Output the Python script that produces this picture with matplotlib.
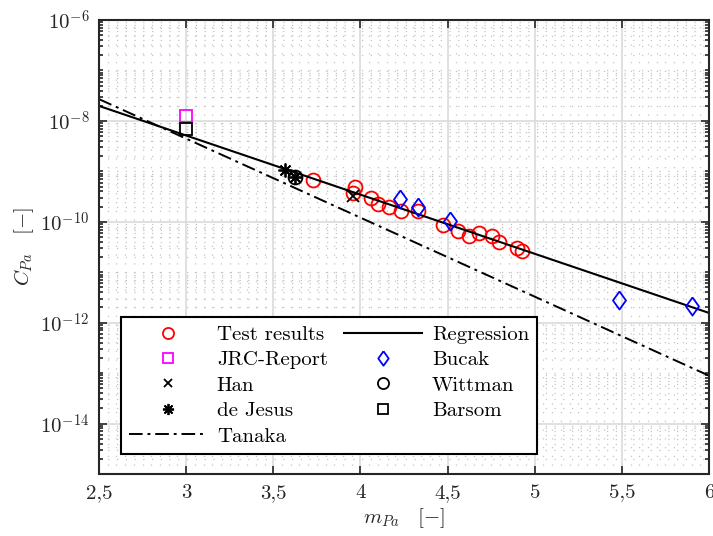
import matplotlib
matplotlib.use("Agg")
import matplotlib.pyplot as plt
from matplotlib.ticker import FixedLocator, MultipleLocator, FuncFormatter, NullFormatter
import numpy as np

plt.rcParams['font.family'] = 'serif'
plt.rcParams['font.serif'] = ['cmr10']
plt.rcParams['mathtext.fontset'] = 'cm'
plt.rcParams['axes.unicode_minus'] = False
plt.rcParams['axes.formatter.use_mathtext'] = True

# data
test_m = [3.727, 3.971, 3.960, 4.061, 4.099, 4.166, 4.233, 4.328,
          4.471, 4.557, 4.624, 4.681, 4.757, 4.795, 4.900, 4.929]
test_C = [6.8e-10, 4.9e-10, 3.7e-10, 2.9e-10, 2.27e-10, 1.92e-10, 1.67e-10, 1.6e-10,
          8.7e-11, 6.7e-11, 5.3e-11, 6.1e-11, 5.3e-11, 3.9e-11, 3.0e-11, 2.67e-11]
jrc_m = [3.0]
jrc_C = [1.26e-8]
han_m = [3.96]
han_C = [3.2e-10]
jesus_m = [3.565, 3.622]
jesus_C = [1.05e-9, 7.7e-10]
tanaka_m = [2.5, 6.0]
tanaka_C = [2.7e-8, 8.9e-14]
reg_m = [2.5, 6.0]
reg_C = [1.98e-8, 1.56e-12]
bucak_m = [4.227, 4.332, 4.515, 5.482, 5.902]
bucak_C = [2.8e-10, 2.0e-10, 1.06e-10, 2.85e-12, 2.1e-12]
wittman_m = [3.622]
wittman_C = [7.7e-10]
barsom_m = [3.0]
barsom_C = [6.8e-9]

xticks = [2.5, 3, 3.5, 4, 4.5, 5, 5.5, 6]
xticklabels = ['2,5', '3', '3,5', '4', '4,5', '5', '5,5', '6']
yexp = [-14, -12, -10, -8, -6]

fig = plt.figure(figsize=(7.13, 5.36), dpi=100)
ax = fig.add_axes([99/713, 1 - 474/536, 610/713, 454/536])

diamond = [(0, 1), (0.72, 0), (0, -1), (-0.72, 0), (0, 1)]
ms = 10
mew = 1.3

ax.plot(test_m, test_C, 'o', mfc='none', mec='red', ms=ms, mew=mew, label='Test results')
ax.plot(jrc_m, jrc_C, 's', mfc='none', mec='magenta', ms=9, mew=mew, label='JRC-Report')
ax.plot(han_m, han_C, 'x', color='black', ms=8, mew=mew, label='Han')
ax.plot(jesus_m, jesus_C, marker=(8, 2, 0), ls='none', color='black', ms=10, mew=mew,
        label='de Jesus')
ax.plot(tanaka_m, tanaka_C, color='black', lw=1.4, ls=(0, (7, 2.5, 1.5, 2.5)), label='Tanaka')
ax.plot(reg_m, reg_C, color='black', lw=1.5, label='Regression')
ax.plot(bucak_m, bucak_C, marker=diamond, ls='none', mfc='none', mec='blue', ms=13, mew=mew,
        label='Bucak')
ax.plot(wittman_m, wittman_C, 'o', mfc='none', mec='black', ms=ms, mew=mew, label='Wittman')
ax.plot(barsom_m, barsom_C, 's', mfc='none', mec='black', ms=9, mew=mew, label='Barsom')

ax.set_yscale('log')
ax.set_xlim(2.5, 6)
ax.set_ylim(1e-15, 1e-6)

ax.set_xticks(xticks)
ax.set_xticklabels(xticklabels)
ax.xaxis.set_minor_locator(MultipleLocator(0.05))

# decades 1e-15 .. 1e-6, labelled every second decade
ax.yaxis.set_major_locator(FixedLocator([10.0**e for e in yexp]))
ax.yaxis.set_major_formatter(FuncFormatter(lambda v, _: r'$10^{%d}$' % int(round(np.log10(v)))))
minor = [s * 10.0**e for e in range(-15, -6) for s in range(1, 10)]
minor = [v for v in minor if all(abs(v - 10.0**e) > 1e-30 for e in yexp)]
ax.yaxis.set_minor_locator(FixedLocator(minor))
ax.yaxis.set_minor_formatter(NullFormatter())

dark = '#262626'
ax.tick_params(which='both', direction='in', top=True, right=True, colors=dark,
               labelsize=15, width=1.2)
ax.tick_params(which='major', length=6, pad=7)
ax.tick_params(axis='y', which='minor', length=3)
ax.tick_params(axis='x', which='minor', length=0)
for sp in ax.spines.values():
    sp.set_color(dark)
    sp.set_linewidth(1.5)

ax.grid(True, which='major', color='#dadada', lw=1.2, ls='-')
ax.grid(True, which='minor', color='#c4c4c4', lw=0.9, ls=(0, (1, 6)))
ax.set_axisbelow(True)

ax.set_xlabel(r'$m_{Pa}\ \ \ [-]$', fontsize=15, color=dark, labelpad=3)
ax.set_ylabel(r'$C_{Pa}\ \ \ [-]$', fontsize=15, color=dark, labelpad=3)

leg = ax.legend(ncol=2, loc='lower left', bbox_to_anchor=(0.036, 0.044),
                bbox_transform=ax.transAxes, borderaxespad=0, fontsize=15,
                fancybox=False, framealpha=1, edgecolor='black', handlelength=3.75,
                handletextpad=0.45, columnspacing=0.8, labelspacing=0.33,
                borderpad=0.4, numpoints=1, markerscale=0.8)
leg.get_frame().set_linewidth(1.5)

fig.savefig('out.png', dpi=100)
